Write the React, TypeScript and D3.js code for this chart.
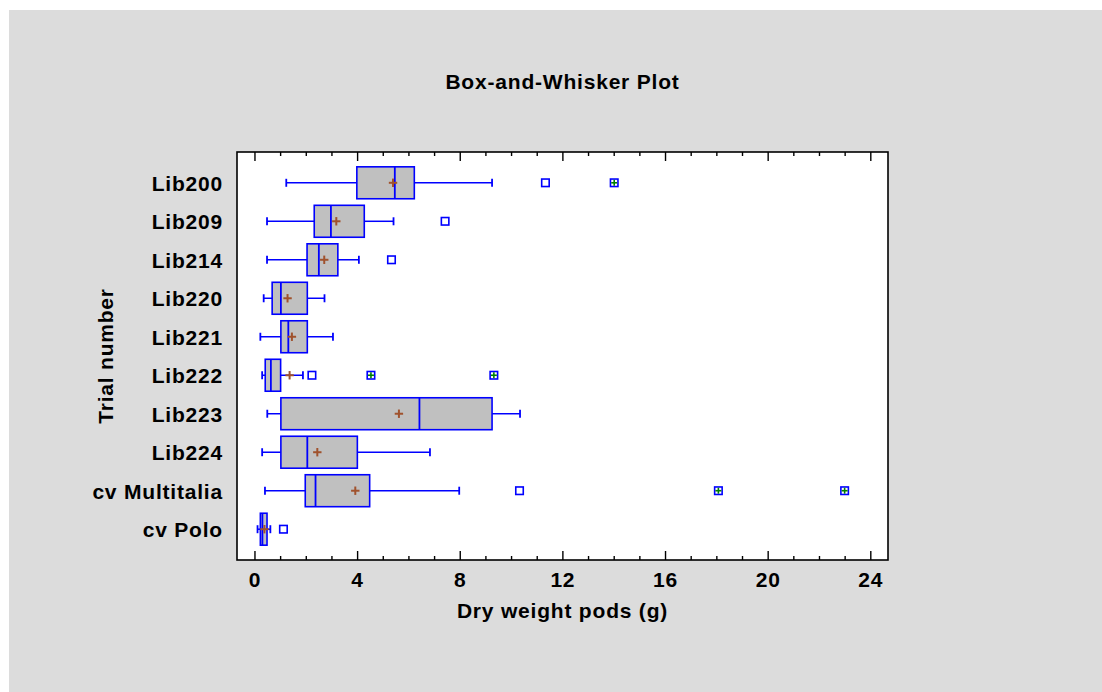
import React from "react";
import * as d3 from "d3";

// Trial groups, top to bottom
const categories = [
  "Lib200",
  "Lib209",
  "Lib214",
  "Lib220",
  "Lib221",
  "Lib222",
  "Lib223",
  "Lib224",
  "cv Multitalia",
  "cv Polo",
];

// Five-number summaries (g) per trial
const lowerWhisker = [1.22, 0.47, 0.47, 0.34, 0.21, 0.28, 0.48, 0.28, 0.39, 0.1];
const lowerQuartile = [3.97, 2.31, 2.03, 0.67, 1.01, 0.4, 1.01, 1.01, 1.96, 0.21];
const medians = [5.45, 2.96, 2.49, 1.01, 1.3, 0.62, 6.41, 2.04, 2.36, 0.29];
const upperQuartile = [6.21, 4.26, 3.23, 2.04, 2.04, 1.0, 9.24, 3.99, 4.47, 0.47];
const upperWhisker = [9.24, 5.4, 4.05, 2.71, 3.04, 1.87, 10.33, 6.82, 7.96, 0.6];
const means = [5.38, 3.17, 2.7, 1.27, 1.44, 1.35, 5.61, 2.43, 3.91, 0.37];

// Outside points and far outside points per trial
const outsidePoints = [[11.32], [7.41], [5.32], [], [], [2.22], [], [], [10.31], [1.11]];
const farOutsidePoints = [[14.0], [], [], [], [], [4.52, 9.31], [], [], [18.06, 22.98], []];

// Axis ticks
const majorTicks = [0, 4, 8, 12, 16, 20, 24];
const minorTicks = d3.range(0, 25).filter((v) => v % 4 !== 0);

const title = "Box-and-Whisker Plot";
const xTitle = "Dry weight pods (g)";
const yTitle = "Trial number";

const W = 1102;
const H = 692;
const plot = { left: 237, right: 888, top: 152, bottom: 560 };
const FONT = "Arimo, 'Liberation Sans', Arial, Helvetica, sans-serif";
const BLUE = "#0000ff";
const MEAN = "#a0522d";
const FAR = "#008000";

export default function App() {
  const x = d3.scaleLinear().domain([-0.7, 24.67]).range([plot.left, plot.right]);
  const y = d3
    .scalePoint<string>()
    .domain(categories)
    .range([plot.top, plot.bottom])
    .padding(0.8);
  const boxH = y.step() * 0.83;
  const capH = 8;
  const markSize = 7.5;
  const plusHalf = 4.2;
  const cx = (plot.left + plot.right) / 2;

  const textStyle = {
    fontFamily: FONT,
    fontWeight: 700,
    fontSize: 21,
    letterSpacing: 0.8,
    fill: "#000",
  } as const;

  return (
    <svg
      width={W}
      height={H}
      style={{ position: "absolute", left: 0, top: 0, display: "block" }}
    >
      <rect x={0} y={0} width={W} height={H} fill="#ffffff" />
      <rect x={9} y={10} width={W - 9} height={H - 10} fill="#dcdcdc" />
      <rect
        x={plot.left}
        y={plot.top}
        width={plot.right - plot.left}
        height={plot.bottom - plot.top}
        fill="#ffffff"
      />

      <text x={cx} y={89} textAnchor="middle" style={textStyle}>
        {title}
      </text>

      {/* ticks on top and bottom edges, pointing inward */}
      {majorTicks.map((t) => (
        <g key={"M" + t} stroke="#000" strokeWidth={1.4}>
          <line x1={x(t)} x2={x(t)} y1={plot.top} y2={plot.top + 9} />
          <line x1={x(t)} x2={x(t)} y1={plot.bottom} y2={plot.bottom - 9} />
        </g>
      ))}
      {minorTicks.map((t) => (
        <g key={"m" + t} stroke="#000" strokeWidth={1.4}>
          <line x1={x(t)} x2={x(t)} y1={plot.top} y2={plot.top + 4} />
          <line x1={x(t)} x2={x(t)} y1={plot.bottom} y2={plot.bottom - 4} />
        </g>
      ))}

      {categories.map((c, i) => {
        const cy = y(c) as number;
        return (
          <g key={c}>
            {/* whiskers */}
            <g stroke={BLUE} strokeWidth={1.5}>
              <line x1={x(lowerWhisker[i])} x2={x(lowerQuartile[i])} y1={cy} y2={cy} />
              <line x1={x(upperQuartile[i])} x2={x(upperWhisker[i])} y1={cy} y2={cy} />
              <line
                x1={x(lowerWhisker[i])}
                x2={x(lowerWhisker[i])}
                y1={cy - capH / 2}
                y2={cy + capH / 2}
                strokeWidth={1.8}
              />
              <line
                x1={x(upperWhisker[i])}
                x2={x(upperWhisker[i])}
                y1={cy - capH / 2}
                y2={cy + capH / 2}
                strokeWidth={1.8}
              />
            </g>
            {/* box */}
            <rect
              x={x(lowerQuartile[i])}
              y={cy - boxH / 2}
              width={x(upperQuartile[i]) - x(lowerQuartile[i])}
              height={boxH}
              fill="#c0c0c0"
              stroke={BLUE}
              strokeWidth={1.6}
            />
            <line
              x1={x(medians[i])}
              x2={x(medians[i])}
              y1={cy - boxH / 2}
              y2={cy + boxH / 2}
              stroke={BLUE}
              strokeWidth={1.8}
            />
            {/* mean */}
            <g stroke={MEAN} strokeWidth={2}>
              <line
                x1={x(means[i]) - plusHalf}
                x2={x(means[i]) + plusHalf}
                y1={cy}
                y2={cy}
              />
              <line
                x1={x(means[i])}
                x2={x(means[i])}
                y1={cy - plusHalf}
                y2={cy + plusHalf}
              />
            </g>
            {/* outside points */}
            {outsidePoints[i].map((v, j) => (
              <rect
                key={"o" + j}
                x={x(v) - markSize / 2}
                y={cy - markSize / 2}
                width={markSize}
                height={markSize}
                fill="#ffffff"
                stroke={BLUE}
                strokeWidth={1.6}
              />
            ))}
            {/* far outside points */}
            {farOutsidePoints[i].map((v, j) => (
              <g key={"f" + j}>
                <rect
                  x={x(v) - markSize / 2}
                  y={cy - markSize / 2}
                  width={markSize}
                  height={markSize}
                  fill="#ffffff"
                  stroke={BLUE}
                  strokeWidth={1.6}
                />
                <g stroke={FAR} strokeWidth={1.6}>
                  <line x1={x(v) - 3} x2={x(v) + 3} y1={cy} y2={cy} />
                  <line x1={x(v)} x2={x(v)} y1={cy - 3} y2={cy + 3} />
                </g>
              </g>
            ))}
            {/* category label */}
            <text x={223} y={cy + 8} textAnchor="end" style={textStyle}>
              {c}
            </text>
          </g>
        );
      })}

      {/* frame */}
      <rect
        x={plot.left}
        y={plot.top}
        width={plot.right - plot.left}
        height={plot.bottom - plot.top}
        fill="none"
        stroke="#000"
        strokeWidth={1.6}
      />

      {majorTicks.map((t) => (
        <text key={"l" + t} x={x(t)} y={587} textAnchor="middle" style={textStyle}>
          {t}
        </text>
      ))}

      <text x={cx} y={618} textAnchor="middle" style={textStyle}>
        {xTitle}
      </text>
      <text
        transform={`translate(113, ${(plot.top + plot.bottom) / 2}) rotate(-90)`}
        textAnchor="middle"
        style={textStyle}
      >
        {yTitle}
      </text>
    </svg>
  );
}
